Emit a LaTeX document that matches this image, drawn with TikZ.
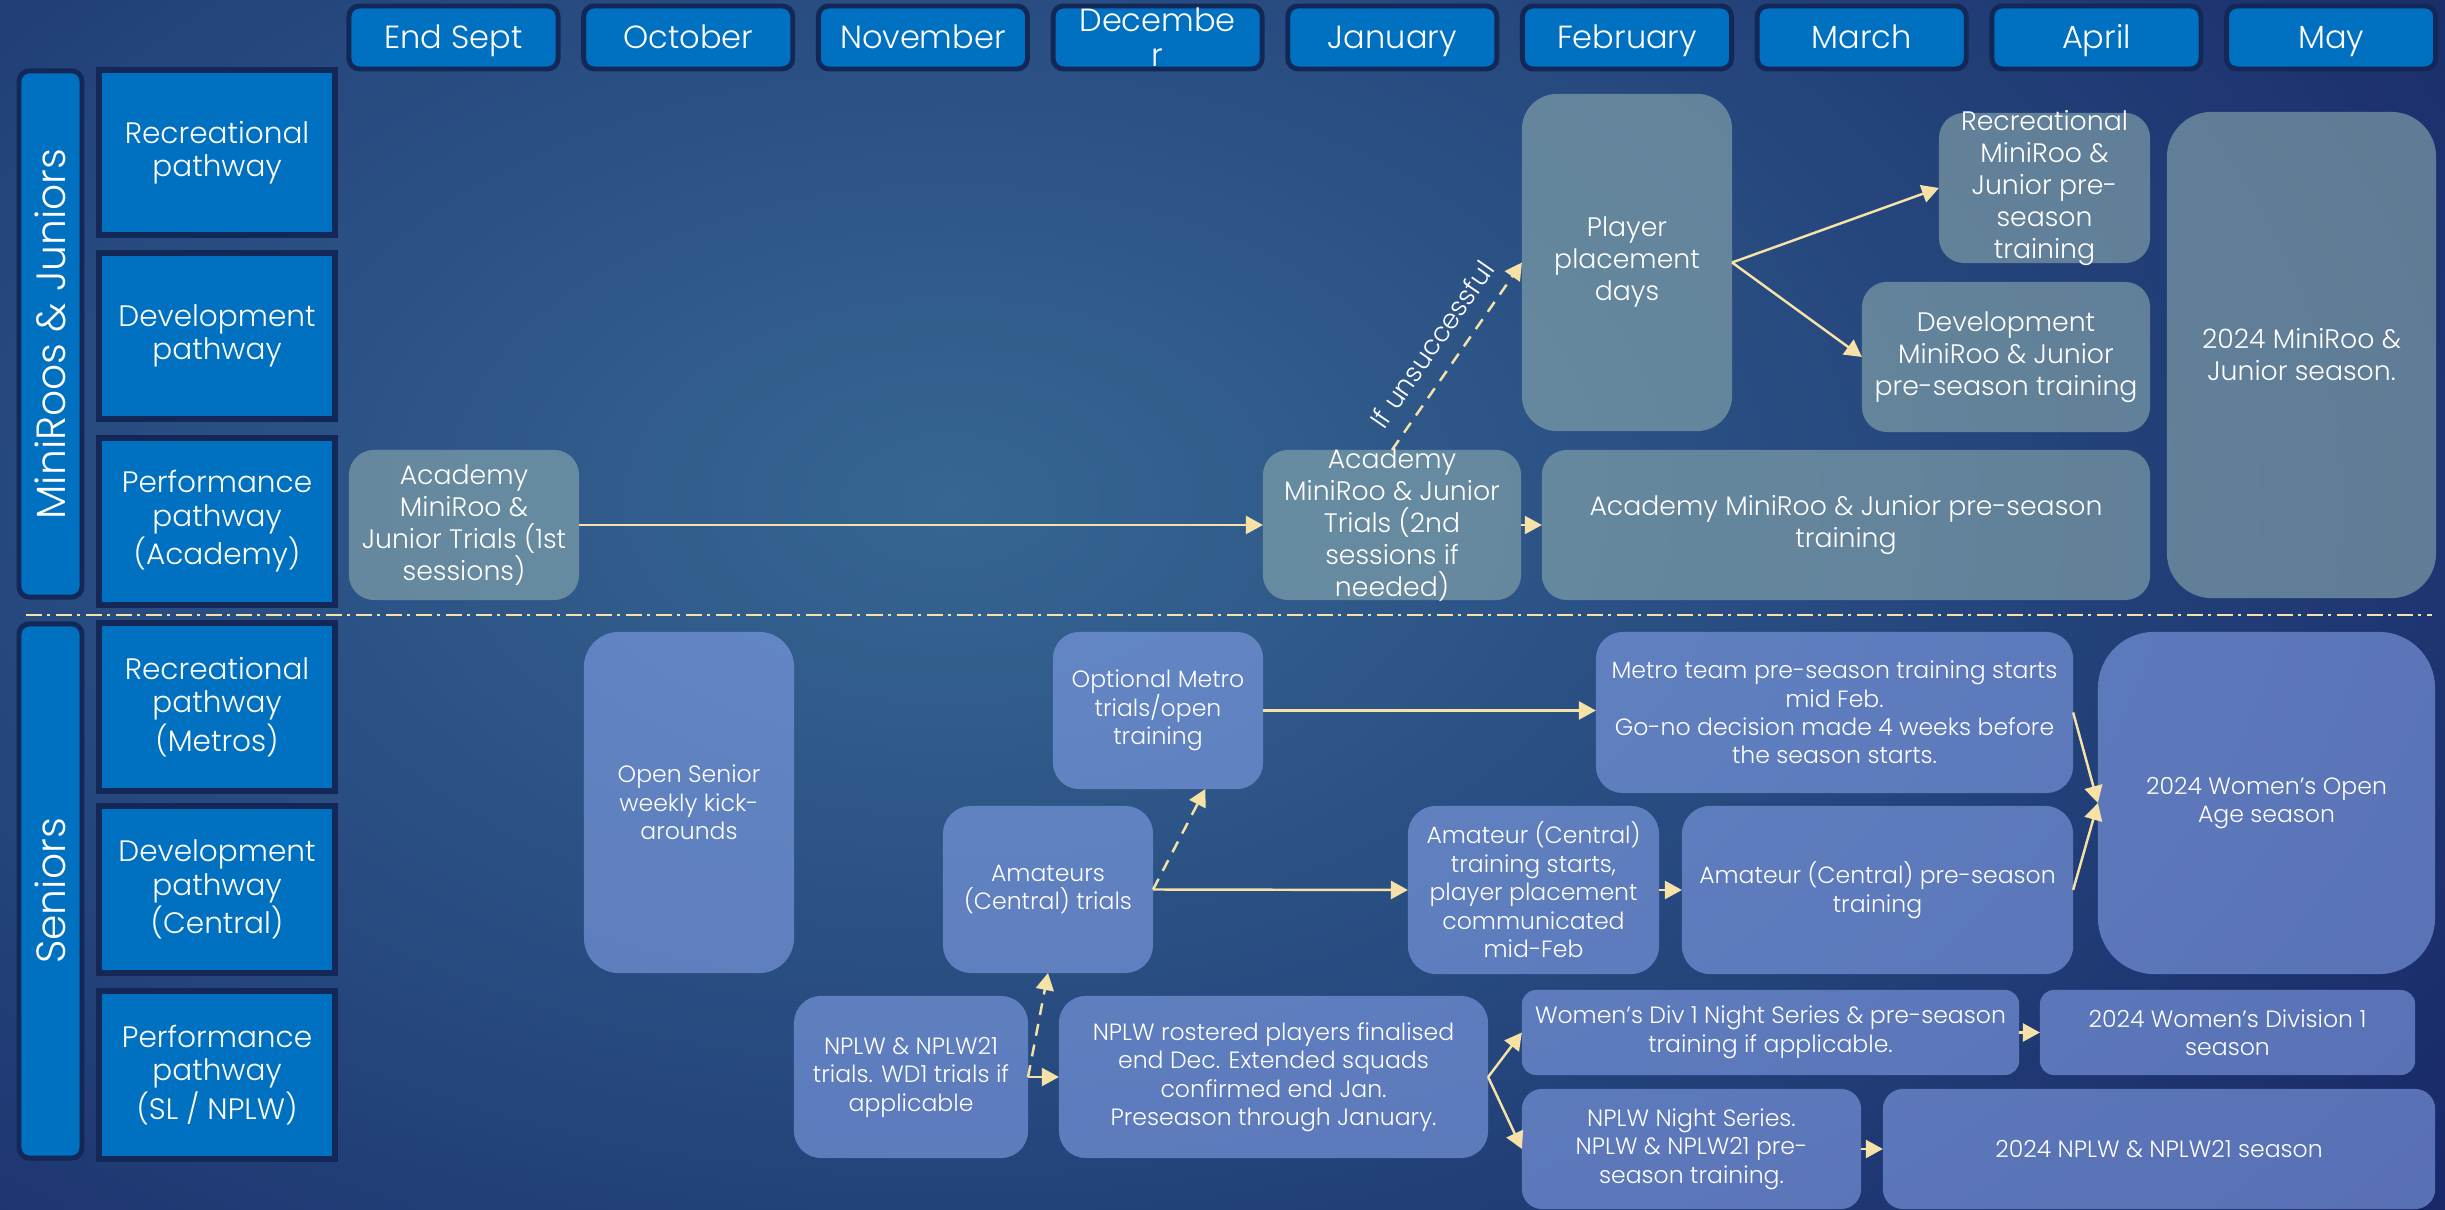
\documentclass[tikz,border=0pt]{standalone}
\usepackage{fontspec}
\setmainfont{Poppins Light}
\usetikzlibrary{arrows.meta,calc}
\definecolor{bgin}{RGB}{54,102,146}
\definecolor{bgmid}{RGB}{38,72,126}
\definecolor{bgmidb}{RGB}{24,40,104}
\definecolor{bgout}{RGB}{13,18,82}
\definecolor{hdrblue}{RGB}{0,112,192}
\definecolor{hdrline}{RGB}{20,40,88}
\definecolor{cream}{RGB}{246,226,166}
\definecolor{jfill}{RGB}{140,172,175}
\definecolor{sfill}{RGB}{132,160,232}
\pgfdeclareradialshading{bgrad}{\pgfpoint{0bp}{0bp}}{color(0bp)=(bgin); color(15bp)=(bgmid); color(29bp)=(bgmidb); color(43bp)=(bgout); color(50bp)=(bgout)}

\newcommand\tlbox[7]{%
  \pgfmathsetmacro\tlw{(#5-#3)/100}%
  \pgfmathsetmacro\tlh{(#6-#4)/100}%
  \pgfmathsetmacro\tlr{min(#5-#3,#6-#4)*0.1667/100}%
  \node[minimum width=\tlw cm, minimum height=\tlh cm, rounded corners=\tlr cm, inner sep=0, outer sep=0, #2] (#1) at ({(#3+#5)/2},{(#4+#6)/2}) {};%
  \node[#2-t] (#1-t) at (#1.center) {#7};%
}

\tikzset{
  hdr/.style={fill=hdrblue, draw=hdrline, line width=1.4pt},
  hdr-t/.style={text=white, align=center, inner sep=0, text height=7.9pt, text depth=1.5pt, font=\fontsize{9.1}{10}\selectfont},
  hdrtwo/.style={hdr},
  hdrtwo-t/.style={text=white, align=center, inner sep=0, font=\fontsize{9.1}{10}\selectfont},
  sidebar/.style={fill=hdrblue, draw=hdrline, line width=1.4pt},
  sidebar-t/.style={text=white, inner sep=0, rotate=90, font=\fontsize{11.6}{13}\selectfont},
  pway/.style={fill=hdrblue, draw=hdrline, line width=1.6pt, sharp corners},
  pway-t/.style={text=white, align=center, inner sep=0, font=\fontsize{8.4}{9.5}\selectfont},
  jbox/.style={fill=jfill, fill opacity=0.6},
  jbox-t/.style={text=white, align=center, inner sep=0, font=\fontsize{7.6}{9.1}\selectfont},
  sbox/.style={fill=sfill, fill opacity=0.6},
  sbox-t/.style={text=white, align=center, inner sep=0, font=\fontsize{6.7}{8.1}\selectfont},
  conn/.style={draw=cream, line width=0.7pt, -{Triangle[length=1.7mm,width=1.8mm]}},
  dconn/.style={conn, dash pattern=on 1.2mm off 0.9mm},
}

\begin{document}
\begin{tikzpicture}[x=0.01cm, y=-0.01cm]
\useasboundingbox (0,0) rectangle (2445,1210);
% background
\fill[bgout] (0,0) rectangle (2445,1210);
\begin{scope}
  \clip (0,0) rectangle (2445,1210);
  \shade[shading=bgrad] (-650,-500) rectangle (2550,1500);
\end{scope}

% month headers
\foreach \i/\m in {0/End Sept,1/October,2/November,4/January,5/February,6/March,7/April,8/May}{
  \pgfmathsetmacro\xa{349+234.7*\i}
  \pgfmathsetmacro\xb{\xa+209}
  \tlbox{m\i}{hdr}{\xa}{6}{\xb}{69}{\m}
}
\tlbox{m3}{hdrtwo}{1053.1}{6}{1262.1}{69}{Decembe\\r}

% side bars
\tlbox{SJ}{sidebar}{19}{71}{82}{597}{MiniRoos \& Juniors}
\tlbox{SS}{sidebar}{19}{624}{82}{1158}{Seniors}

% pathway boxes
\tlbox{PJ1}{pway}{99}{70}{335}{235}{Recreational\\pathway}
\tlbox{PJ2}{pway}{99}{253}{335}{419}{Development\\pathway}
\tlbox{PJ3}{pway}{99}{438}{335}{605}{Performance\\pathway\\(Academy)}
\tlbox{PS1}{pway}{99}{623}{335}{791}{Recreational\\pathway\\(Metros)}
\tlbox{PS2}{pway}{99}{806}{335}{973}{Development\\pathway\\(Central)}
\tlbox{PS3}{pway}{99}{991}{335}{1159}{Performance\\pathway\\(SL / NPLW)}

% separator
\draw[cream, line width=0.75pt, dash pattern=on 0.16cm off 0.05cm on 0.03cm off 0.06cm] (26,615) -- (2432,615);

% juniors
\tlbox{A1}{jbox}{349}{450}{579}{600}{Academy\\MiniRoo \&\\Junior Trials (1st\\sessions)}
\tlbox{A2}{jbox}{1263}{450}{1521}{600}{Academy\\MiniRoo \& Junior\\Trials (2nd\\sessions if\\needed)}
\tlbox{PP}{jbox}{1522}{94}{1732}{431}{Player\\placement\\days}
\tlbox{AP}{jbox}{1542}{450}{2150}{600}{Academy MiniRoo \& Junior pre-season\\training}
\tlbox{RT}{jbox}{1939}{113}{2150}{263}{Recreational\\MiniRoo \&\\Junior pre-\\season\\training}
\tlbox{DT}{jbox}{1862}{282}{2150}{432}{Development\\MiniRoo \& Junior\\pre-season training}
\tlbox{MS}{jbox}{2167}{112}{2436}{598}{2024 MiniRoo \&\\Junior season.}

% seniors
\tlbox{OS}{sbox}{584}{632}{794}{973}{Open Senior\\weekly kick-\\arounds}
\tlbox{OM}{sbox}{1053}{632}{1263}{789}{Optional Metro\\trials/open\\training}
\tlbox{AT}{sbox}{943}{806}{1153}{973}{Amateurs\\(Central) trials}
\tlbox{NT}{sbox}{794}{996}{1028}{1158}{NPLW \& NPLW21\\trials. WD1 trials if\\applicable}
\tlbox{NR}{sbox}{1059}{996}{1488}{1158}{NPLW rostered players finalised\\end Dec. Extended squads\\confirmed end Jan.\\Preseason through January.}
\tlbox{AS}{sbox}{1408}{806}{1659}{974}{Amateur (Central)\\training starts,\\player placement\\communicated\\mid-Feb}
\tlbox{MT}{sbox}{1596}{632}{2073}{793}{Metro team pre-season training starts\\mid Feb.\\Go-no decision made 4 weeks before\\the season starts.}
\tlbox{AC}{sbox}{1682}{806}{2073}{974}{Amateur (Central) pre-season\\training}
\tlbox{WO}{sbox}{2098}{632}{2435}{974}{2024 Women’s Open\\Age season}
\tlbox{WD}{sbox}{1522}{990}{2019}{1075}{Women’s Div 1 Night Series \& pre-season\\training if applicable.}
\tlbox{W1}{sbox}{2040}{990}{2415}{1075}{2024 Women’s Division 1\\season}
\tlbox{NN}{sbox}{1522}{1089}{1861}{1209}{NPLW Night Series.\\NPLW \& NPLW21 pre-\\season training.}
\tlbox{N2}{sbox}{1883}{1089}{2435}{1209}{2024 NPLW \& NPLW21 season}

% junior connectors
\draw[conn] (A1.east) -- (A2.west);
\draw[conn] (A2.east) -- (AP.west);
\draw[dconn] (A2.north) -- node[sloped, above=0.16cm, pos=0.48, jbox-t] (lbl) {If unsuccessful} (PP.west);
\draw[conn] (PP.east) -- (RT.west);
\draw[conn] (PP.east) -- (DT.west);

% senior connectors
\draw[conn] (OM.east) -- (OM.east -| MT.west);
\draw[conn] (AT.east) -- (AS.west);
\draw[dconn] (AT.east) -- ($(OM.south)!0.45!(OM.south east)$);
\draw[dconn] (NT.east) -- (AT.south);
\draw[conn] (NT.east) -- (NR.west);
\draw[conn] (NR.east) -- (WD.west);
\draw[conn] (NR.east) -- (NN.west);
\draw[conn] (AS.east) -- (AC.west);
\draw[conn] (MT.east) -- (WO.west);
\draw[conn] (AC.east) -- (WO.west);
\draw[conn] (WD.east) -- (W1.west);
\draw[conn] (NN.east) -- (N2.west);
\end{tikzpicture}
\end{document}
